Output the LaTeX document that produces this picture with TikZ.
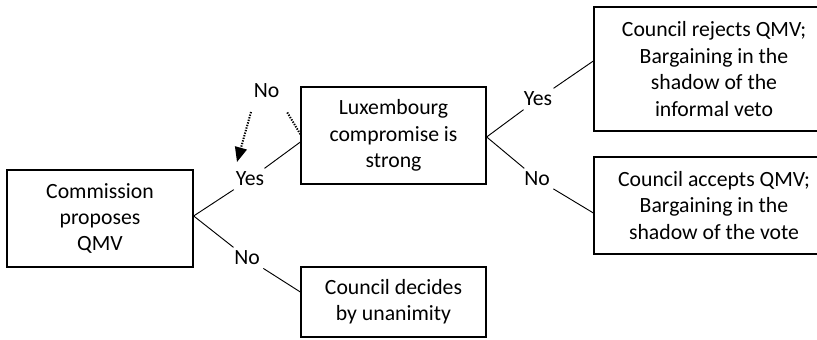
\documentclass[tikz,border=0pt]{standalone}
\usepackage{fontspec}
\setmainfont{Carlito}
\usetikzlibrary{arrows.meta,calc}
\begin{document}
\begin{tikzpicture}[x=0.75pt,y=-0.75pt,
  box/.style={draw,line width=1pt,align=center,font=\fontsize{16.3}{19.8}\selectfont,inner sep=0pt},
  lbl/.style={font=\fontsize{16.3}{19.8}\selectfont,inner sep=2.5pt},
  conn/.style={line width=0.7pt},
  dotline/.style={line width=1.5pt,dash pattern=on 1pt off 1pt}]
\clip (0,0) rectangle (817,339);
\node[box,minimum width=139.5pt,minimum height=72.75pt] (comm) at (100,218.5) {Commission\\proposes\\QMV};
\node[box,minimum width=138.75pt,minimum height=72.75pt] (lux) at (393.5,135.5) {Luxembourg\\compromise is\\strong};
\node[box,minimum width=180pt,minimum height=93pt] (rej) at (714,69) {Council rejects QMV;\\Bargaining in the\\shadow of the\\informal veto};
\node[box,minimum width=180pt,minimum height=72.75pt] (acc) at (714,205.5) {Council accepts QMV;\\Bargaining in the\\shadow of the vote};
\node[box,minimum width=138.75pt,minimum height=52.5pt] (dec) at (393.5,302) {Council decides\\by unanimity};
\node[lbl] (yes1) at (250,179) {Yes};
\node[lbl] (no1) at (247,258) {No};
\node[lbl] (yes2) at (538,99) {Yes};
\node[lbl] (no2) at (537,179) {No};
\node[lbl] (no0) at (266.5,90.5) {No};
\draw[conn] ([yshift=1.9pt]comm.east) -- (yes1) -- ([yshift=-4.9pt]lux.west);
\draw[conn] ([yshift=1.9pt]comm.east) -- (no1) -- ([yshift=7.5pt]dec.west);
\draw[conn] ([yshift=-1.1pt]lux.east) -- (yes2) -- ([yshift=6pt]rej.west);
\draw[conn] ([yshift=-1.1pt]lux.east) -- (no2) -- ([yshift=-5.6pt]acc.west);
\draw[dotline] ([yshift=1pt]lux.west) -- ($(no0)+(20.5,21.5)$);
\draw[dotline,-{Triangle[length=11pt,width=9pt]}] ($(no0)+(-15.5,21.5)$) -- ($(yes1)+(-13,-17)$);
\end{tikzpicture}
\end{document}
